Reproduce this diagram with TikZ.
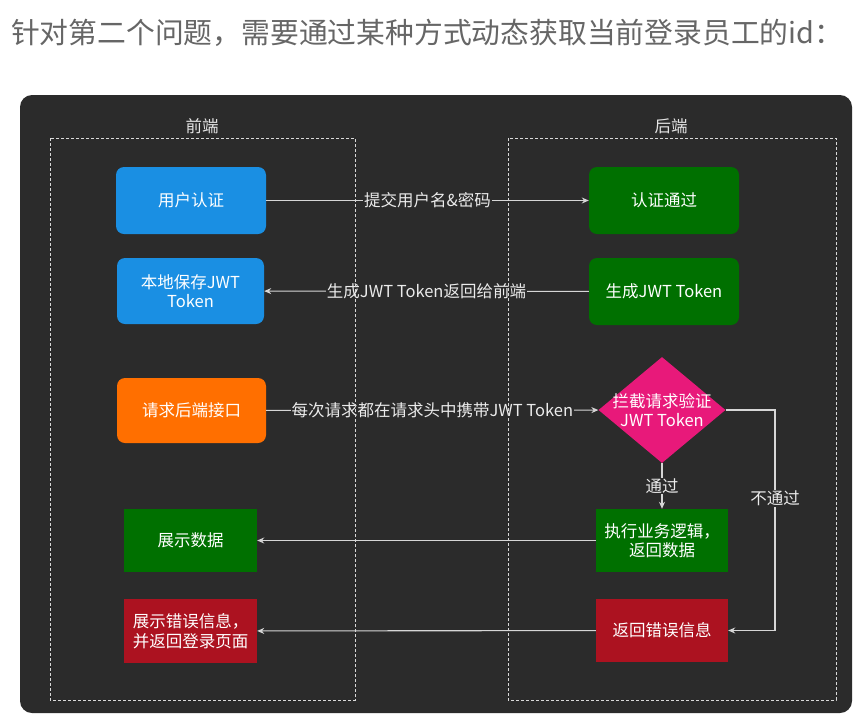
\documentclass[tikz,border=0pt]{standalone}
\usepackage{fontspec}
\setmainfont{Noto Sans CJK SC}
\usetikzlibrary{arrows.meta,shapes.geometric}

\definecolor{panel}{HTML}{2B2B2B}
\definecolor{titlegray}{HTML}{666666}
\definecolor{wire}{HTML}{D6D6D6}
\definecolor{fgblue}{HTML}{1A8FE3}
\definecolor{fgorange}{HTML}{FF6F00}
\definecolor{okgreen}{HTML}{007000}
\definecolor{errred}{HTML}{AC1220}
\definecolor{chkpink}{HTML}{E8197A}

\tikzset{
  txt/.style={text=white, font=\fontsize{16.5}{19.5}\selectfont, align=center},
  sbox/.style={txt, inner sep=0pt},
  lbl/.style={font=\fontsize{16.5}{19.5}\selectfont, text=white!92!black, fill=panel, inner sep=1pt},
  conn/.style={draw=wire, line width=1.1pt, -{Stealth[length=7pt,width=6pt]}},
  lane/.style={draw=white!85!black, line width=0.8pt, dash pattern=on 3pt off 2pt},
  lanetitle/.style={font=\fontsize{16.5}{19.5}\selectfont, text=white!90!black}
}

\begin{document}
\begin{tikzpicture}[x=1pt, y=-1pt]
  % page
  \fill[white] (0,0) rectangle (855,713);
  \useasboundingbox (0,0) rectangle (855,713);

  % heading
  \node[anchor=west, inner sep=0pt, text=titlegray, font=\fontsize{28.8}{32}\selectfont] (head) at (11,33)
    {针对第二个问题，需要通过某种方式动态获取当前登录员工的id：};

  % dark panel
  \fill[panel, rounded corners=12pt] (20,95) rectangle (852,713);

  % front end lane
  \node[sbox, fill=fgblue, rounded corners=8pt, minimum width=150pt, minimum height=67pt] (auth) at (191,200.5) {用户认证};
  \node[sbox, fill=fgblue, rounded corners=8pt, minimum width=147pt, minimum height=66pt] (save) at (190.5,291) {本地保存JWT\\Token};
  \node[sbox, fill=fgorange, rounded corners=8pt, minimum width=149pt, minimum height=65pt] (req) at (191.5,410.5) {请求后端接口};
  \node[sbox, fill=okgreen, minimum width=133pt, minimum height=63pt] (show) at (190.5,540.5) {展示数据};
  \node[sbox, fill=errred, minimum width=133pt, minimum height=64pt] (err) at (190.5,631) {展示错误信息，\\并返回登录页面};

  % back end lane
  \node[sbox, fill=okgreen, rounded corners=8pt, minimum width=150pt, minimum height=67pt] (pass) at (664,200.5) {认证通过};
  \node[sbox, fill=okgreen, rounded corners=8pt, minimum width=150pt, minimum height=67pt] (gen) at (664,291.5) {生成JWT Token};
  \node[diamond, fill=chkpink, minimum width=127pt, minimum height=106pt, inner sep=0pt,
        label={[txt]center:拦截请求验证\\JWT Token}] (chk) at (662,410) {};
  \node[sbox, fill=okgreen, minimum width=132pt, minimum height=63pt] (exec) at (662,540.5) {执行业务逻辑，\\返回数据};
  \node[sbox, fill=errred, minimum width=132pt, minimum height=63pt] (rerr) at (662,630.5) {返回错误信息};

  % connectors
  \draw[conn] (auth) -- node[lbl]{提交用户名\&密码} (pass);
  \draw[conn] (gen) -- node[lbl]{生成JWT Token返回给前端} (save);
  \draw[conn] (req) -- node[lbl]{每次请求都在请求头中携带JWT Token} (chk);
  \draw[conn] (chk.south) -- node[lbl]{通过} (exec.north);
  \coordinate (turn) at (775,410);
  \draw[conn] (chk.east) -- (turn) |- node[lbl, pos=0.2]{不通过} (rerr.east);
  \draw[conn] (exec) -- (show);
  \draw[conn] (rerr) -- (err);

  % swimlane frames
  \draw[lane] (50,138) rectangle (355,700);
  \draw[lane] (508,138) rectangle (836,700);
  \node[lanetitle] (feTitle) at (202,126) {前端};
  \node[lanetitle] (beTitle) at (671,126) {后端};
\end{tikzpicture}
\end{document}
